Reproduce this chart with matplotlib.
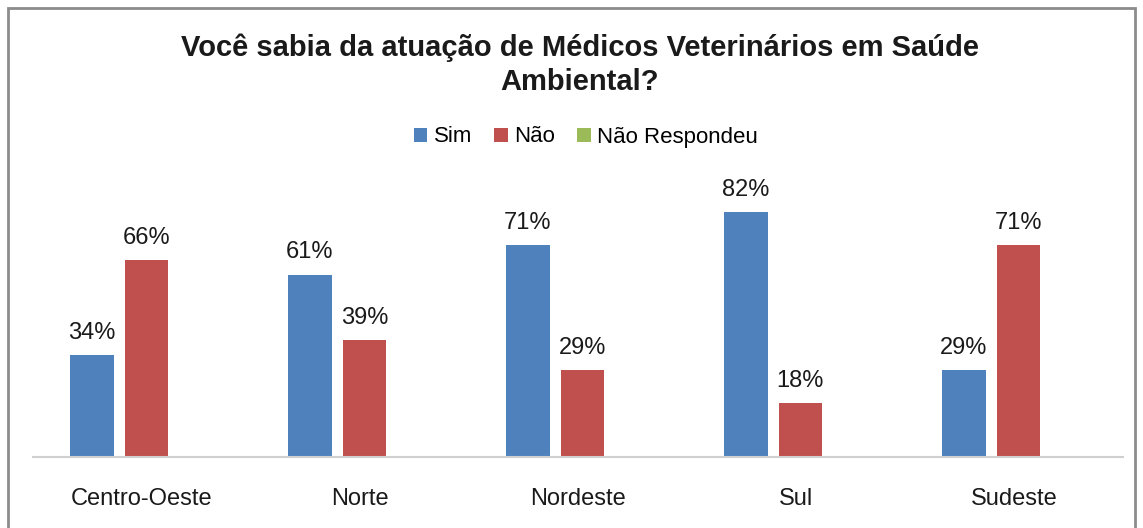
import numpy as np
import matplotlib
matplotlib.use("Agg")
import matplotlib.pyplot as plt
from matplotlib.patches import Rectangle

plt.rcParams['font.family'] = ['Liberation Sans', 'DejaVu Sans']

# data
regioes = ['Centro-Oeste', 'Norte', 'Nordeste', 'Sul', 'Sudeste']
sim = [34, 61, 71, 82, 29]
nao = [66, 39, 29, 18, 71]
nao_resp = [0, 0, 0, 0, 0]
series_names = ['Sim', 'Não', 'Não Respondeu']
cores = ['#4F81BD', '#C0504D', '#9BBB59']

fig = plt.figure(figsize=(11.43, 5.28), dpi=100)
ax = fig.add_axes([33/1143, 1 - 457/528, 1090/1143, 0.9*299/528])

x = np.arange(len(regioes))
w = 0.2
offs = [-0.25, 0.0, 0.25]
handles = []
for vals, off, cor, nome in zip([sim, nao, nao_resp], offs, cores, series_names):
    v = np.array(vals) / 100.0
    b = ax.bar(x + off, v, width=w, color=cor, label=nome, zorder=2)
    handles.append(b)
    for xi, vi in zip(x + off, v):
        if vi > 0:
            ax.annotate(f"{vi*100:.0f}%", (xi, vi), xytext=(0, 8),
                        textcoords='offset points', ha='center', va='bottom',
                        fontsize=17, color='#1a1a1a')

ax.set_xlim(-0.52, 4.48)
ax.set_ylim(0, 0.9)
ax.set_xticks(x - 0.02)
ax.set_xticklabels(regioes, fontsize=17, color='#1a1a1a')
ax.tick_params(axis='x', length=0, pad=22)
ax.set_yticks([])
for s in ['top', 'right', 'left']:
    ax.spines[s].set_visible(False)
ax.spines['bottom'].set_color('#D0D0D0')
ax.spines['bottom'].set_linewidth(1.5)

fig.text(580/1143, 1 - 33/528,
         'Você sabia da atuação de Médicos Veterinários em Saúde\nAmbiental?',
         ha='center', va='top', fontsize=21, fontweight='bold',
         linespacing=1.3, color='#1a1a1a')

fig.legend(handles, series_names, loc='center', ncol=3,
           bbox_to_anchor=(586/1143, 1 - 137/528), frameon=False,
           fontsize=16, handlelength=0.6, handleheight=0.6,
           handletextpad=0.3, columnspacing=1.0)

fig.patches.append(Rectangle((8/1143, -0.05), 1127/1143, 1.05 - 8/528,
                             transform=fig.transFigure, fill=False,
                             edgecolor='#8C8C8C', linewidth=2))

fig.savefig('out.png', dpi=100)
